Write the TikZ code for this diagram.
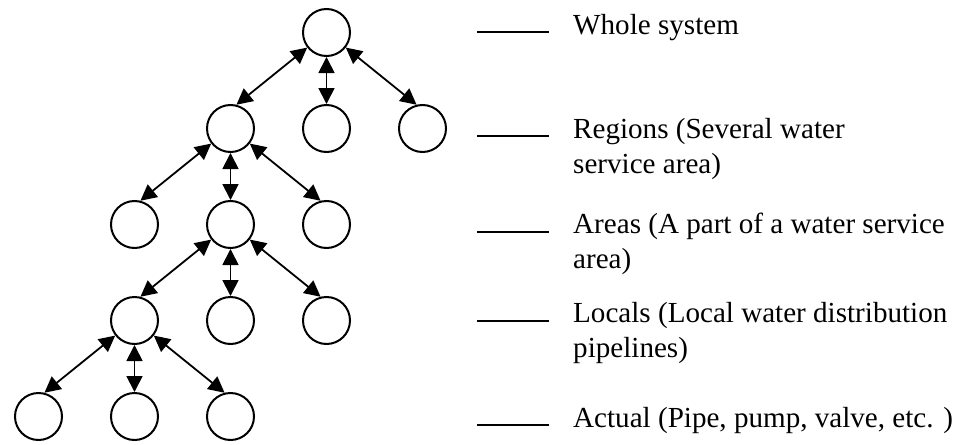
\documentclass[tikz,border=0pt]{standalone}
\usepackage{fontspec}
\setmainfont{Liberation Serif}
\usetikzlibrary{arrows.meta}
\begin{document}
\begin{tikzpicture}[x=1pt,y=-1pt,
  nd/.style={circle,draw,line width=2pt,minimum size=47pt,inner sep=0pt},
  conn/.style={line width=1.8pt,>={Triangle[length=16pt,width=16pt]},<->},
  lvl/.style={line width=2.2pt},
  lbl/.style={anchor=base west,inner sep=0pt,font=\fontsize{29.1}{35}\selectfont}]
\useasboundingbox (0,0) rectangle (957,444);
% nodes
\node[nd] (A)  at (326.5,32.5) {};
\node[nd] (B1) at (230.5,128.5) {};
\node[nd] (B2) at (326.5,128.5) {};
\node[nd] (B3) at (422.5,128.5) {};
\node[nd] (C1) at (134.5,224.5) {};
\node[nd] (C2) at (230.5,224.5) {};
\node[nd] (C3) at (326.5,224.5) {};
\node[nd] (D1) at (134.5,320.5) {};
\node[nd] (D2) at (230.5,320.5) {};
\node[nd] (D3) at (326.5,320.5) {};
\node[nd] (E1) at (38.5,416.5) {};
\node[nd] (E2) at (134.5,416.5) {};
\node[nd] (E3) at (230.5,416.5) {};
% connectors
\foreach \p/\a/\b/\c in {A/B1/B2/B3, B1/C1/C2/C3, C2/D1/D2/D3, D1/E1/E2/E3}{
  \draw[conn] (\p.218) -- (\a.76);
  \draw[conn] (\p.south) -- (\b.north);
  \draw[conn] (\p.322) -- (\c.104);
}
% level lines
\coordinate (l1a) at (477,32.3);  \coordinate (l1b) at (549,32.3);
\coordinate (l2a) at (477,135.7); \coordinate (l2b) at (549,135.7);
\coordinate (l3a) at (477,232.3); \coordinate (l3b) at (549,232.3);
\coordinate (l4a) at (477,320.7); \coordinate (l4b) at (549,320.7);
\coordinate (l5a) at (477,425);   \coordinate (l5b) at (549,425);
\draw[lvl] (l1a) -- (l1b);
\draw[lvl] (l2a) -- (l2b);
\draw[lvl] (l3a) -- (l3b);
\draw[lvl] (l4a) -- (l4b);
\draw[lvl] (l5a) -- (l5b);
% labels
\node[lbl] (t1) at (573,35) {Whole system};
\node[lbl] (t2) at (573,138) {\begin{tabular}[t]{@{}l@{}}Regions (Several water\\service area)\end{tabular}};
\node[lbl] (t3) at (573,233) {\begin{tabular}[t]{@{}l@{}}Areas (A part of a water service\\area)\end{tabular}};
\node[lbl] (t4) at (573,322) {\begin{tabular}[t]{@{}l@{}}Locals (Local water distribution\\pipelines)\end{tabular}};
\node[lbl] (t5) at (573,427) {Actual (Pipe, pump, valve, etc. )};
\end{tikzpicture}
\end{document}
